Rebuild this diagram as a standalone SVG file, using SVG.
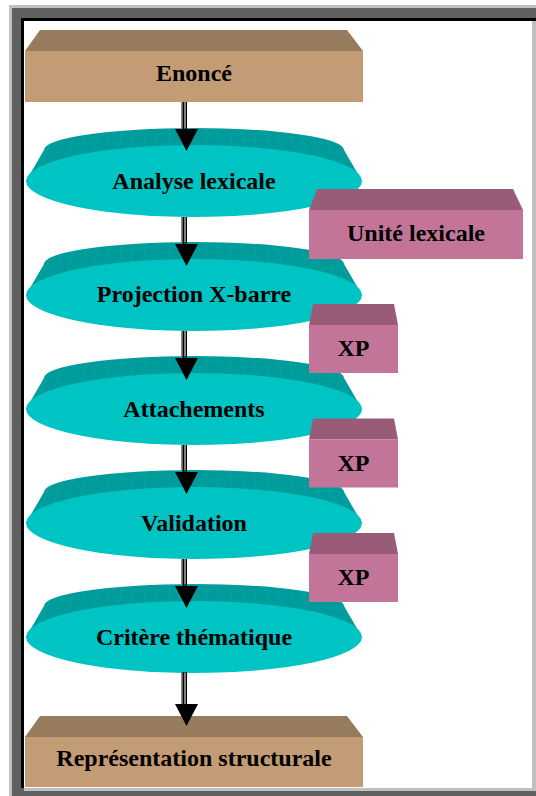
<svg xmlns="http://www.w3.org/2000/svg" xmlns:xlink="http://www.w3.org/1999/xlink" width="536" height="796" viewBox="0 0 536 796">
  <style>
    text { font-family: "Liberation Serif", "Times New Roman", serif; font-weight: bold; font-size: 24px; fill: #000; text-anchor: middle; }
    .tan-top { fill: #977B5D; }
    .tan-front { fill: #C39B74; }
    .mauve-top { fill: #985C79; }
    .mauve-front { fill: #C37599; }
    .disc-side { fill: #009C9C; }
    .disc-face { fill: #00C4C4; }
    .stripe { stroke: #3DB4B4; stroke-width: 0.6; opacity: 0.35; }
    .shaft-light { fill: #8A8A8A; }
    .shaft-dark { fill: #000; }
    .head { fill: #000; }
  </style>
  <defs>
    <!-- extruded disc, centred on (0,0) -->
    <g id="disc">
      <path class="disc-side" d="M -168,0 L -150,-31 A 150 22 0 0 1 150,-31 L 168,0 Z"/>
      <g class="stripe">
        <line x1="-144" y1="-37.2" x2="-161.3" y2="0"/>
        <line x1="-132" y1="-41.5" x2="-147.8" y2="0"/>
        <line x1="-120" y1="-44.2" x2="-134.4" y2="0"/>
        <line x1="-108" y1="-46.3" x2="-121" y2="0"/>
        <line x1="-96" y1="-47.9" x2="-107.5" y2="0"/>
        <line x1="-84" y1="-49.2" x2="-94.1" y2="0"/>
        <line x1="-72" y1="-50.3" x2="-80.6" y2="0"/>
        <line x1="-60" y1="-51.2" x2="-67.2" y2="0"/>
        <line x1="-48" y1="-51.8" x2="-53.8" y2="0"/>
        <line x1="-36" y1="-52.4" x2="-40.3" y2="0"/>
        <line x1="-24" y1="-52.7" x2="-26.9" y2="0"/>
        <line x1="-12" y1="-52.9" x2="-13.4" y2="0"/>
        <line x1="0" y1="-53" x2="0" y2="0"/>
        <line x1="12" y1="-52.9" x2="13.4" y2="0"/>
        <line x1="24" y1="-52.7" x2="26.9" y2="0"/>
        <line x1="36" y1="-52.4" x2="40.3" y2="0"/>
        <line x1="48" y1="-51.8" x2="53.8" y2="0"/>
        <line x1="60" y1="-51.2" x2="67.2" y2="0"/>
        <line x1="72" y1="-50.3" x2="80.6" y2="0"/>
        <line x1="84" y1="-49.2" x2="94.1" y2="0"/>
        <line x1="96" y1="-47.9" x2="107.5" y2="0"/>
        <line x1="108" y1="-46.3" x2="121" y2="0"/>
        <line x1="120" y1="-44.2" x2="134.4" y2="0"/>
        <line x1="132" y1="-41.5" x2="147.8" y2="0"/>
        <line x1="144" y1="-37.2" x2="161.3" y2="0"/>
      </g>
      <ellipse class="disc-face" cx="0" cy="0" rx="168" ry="36"/>
    </g>
    <!-- small extruded box (XP) with origin at the top-left of its front face -->
    <g id="xpbox">
      <polygon class="mauve-top" points="4,-21 85,-21 89,0 0,0"/>
      <rect class="mauve-front" x="0" y="0" width="89" height="48"/>
    </g>
    <!-- arrowhead, top edge at y=0 -->
    <g id="arrowhead">
      <polygon class="head" points="175,0 198,0 186.5,22"/>
    </g>
  </defs>

  <!-- window frame -->
  <rect x="9" y="5" width="527" height="791" fill="#C0C0C0"/>
  <rect x="12" y="8" width="524" height="788" fill="#606060"/>
  <rect x="21" y="18" width="515" height="770" fill="#000"/>
  <rect x="24" y="21" width="512" height="770" fill="#C0C0C0"/>
  <rect x="24" y="21" width="508" height="767" fill="#FFFFFF"/>

  <!-- start and end boxes -->
  <g id="enonce">
    <polygon class="tan-top" points="40,30 347,30 363,51 25,51"/>
    <rect class="tan-front" x="25" y="51" width="338" height="51"/>
    <text x="194" y="81">Enoncé</text>
  </g>
  <g id="representation">
    <polygon class="tan-top" points="40,716 347,716 363,737 25,737"/>
    <rect class="tan-front" x="25" y="737" width="338" height="50"/>
    <text x="194" y="766">Représentation structurale</text>
  </g>

  <!-- processing stages -->
  <g id="analyse">
    <use xlink:href="#disc" href="#disc" transform="translate(194,181)"/>
    <text x="194" y="189">Analyse lexicale</text>
  </g>
  <g id="projection">
    <use xlink:href="#disc" href="#disc" transform="translate(194,295)"/>
    <text x="194" y="302">Projection X-barre</text>
  </g>
  <g id="attachements">
    <use xlink:href="#disc" href="#disc" transform="translate(194,409)"/>
    <text x="194" y="417">Attachements</text>
  </g>
  <g id="validation">
    <use xlink:href="#disc" href="#disc" transform="translate(194,523)"/>
    <text x="194" y="531">Validation</text>
  </g>
  <g id="critere">
    <use xlink:href="#disc" href="#disc" transform="translate(194,637)"/>
    <text x="194" y="645">Critère thématique</text>
  </g>

  <!-- flow arrows -->
  <g id="connectors">
    <g>
      <rect class="shaft-light" x="181" y="102" width="1.5" height="28"/>
      <rect class="shaft-dark" x="182.5" y="102" width="2" height="28"/>
      <rect class="shaft-dark" x="185.5" y="102" width="1.5" height="28"/>
      <use xlink:href="#arrowhead" href="#arrowhead" transform="translate(0,129)"/>
    </g>
    <g>
      <rect class="shaft-light" x="181" y="217" width="1.5" height="28"/>
      <rect class="shaft-dark" x="182.5" y="217" width="2" height="28"/>
      <rect class="shaft-dark" x="185.5" y="217" width="1.5" height="28"/>
      <use xlink:href="#arrowhead" href="#arrowhead" transform="translate(0,244)"/>
    </g>
    <g>
      <rect class="shaft-light" x="181" y="331" width="1.5" height="28"/>
      <rect class="shaft-dark" x="182.5" y="331" width="2" height="28"/>
      <rect class="shaft-dark" x="185.5" y="331" width="1.5" height="28"/>
      <use xlink:href="#arrowhead" href="#arrowhead" transform="translate(0,358)"/>
    </g>
    <g>
      <rect class="shaft-light" x="181" y="445" width="1.5" height="28"/>
      <rect class="shaft-dark" x="182.5" y="445" width="2" height="28"/>
      <rect class="shaft-dark" x="185.5" y="445" width="1.5" height="28"/>
      <use xlink:href="#arrowhead" href="#arrowhead" transform="translate(0,472)"/>
    </g>
    <g>
      <rect class="shaft-light" x="181" y="559" width="1.5" height="28"/>
      <rect class="shaft-dark" x="182.5" y="559" width="2" height="28"/>
      <rect class="shaft-dark" x="185.5" y="559" width="1.5" height="28"/>
      <use xlink:href="#arrowhead" href="#arrowhead" transform="translate(0,586)"/>
    </g>
    <g>
      <rect class="shaft-light" x="181" y="672" width="1.5" height="33"/>
      <rect class="shaft-dark" x="182.5" y="672" width="2" height="33"/>
      <rect class="shaft-dark" x="185.5" y="672" width="1.5" height="33"/>
      <use xlink:href="#arrowhead" href="#arrowhead" transform="translate(0,704)"/>
    </g>
  </g>

  <!-- intermediate results -->
  <g id="unite-lexicale">
    <polygon class="mauve-top" points="317,189 513,189 523,210 309,210"/>
    <rect class="mauve-front" x="309" y="210" width="214" height="49"/>
    <text x="416" y="241">Unité lexicale</text>
  </g>
  <g id="xp1">
    <use xlink:href="#xpbox" href="#xpbox" transform="translate(309,325)"/>
    <text x="353.5" y="356">XP</text>
  </g>
  <g id="xp2">
    <use xlink:href="#xpbox" href="#xpbox" transform="translate(309,439.5)"/>
    <text x="353.5" y="470.5">XP</text>
  </g>
  <g id="xp3">
    <use xlink:href="#xpbox" href="#xpbox" transform="translate(309,554)"/>
    <text x="353.5" y="585">XP</text>
  </g>
</svg>
